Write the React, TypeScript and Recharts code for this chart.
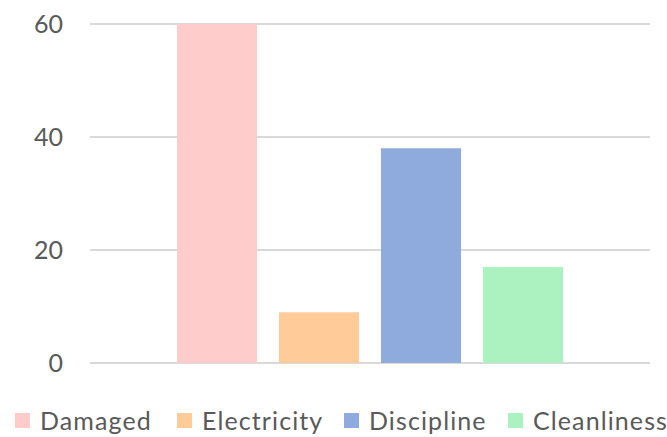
import React from 'react';
import { BarChart, Bar, XAxis, YAxis, CartesianGrid, Legend } from 'recharts';

const categories = ['Total'];
const seriesNames = ['Damaged', 'Electricity', 'Discipline', 'Cleanliness'];
const seriesValues = [60, 9, 38, 17];
const seriesColors = ['#ffcccc', '#ffcc99', '#8faadc', '#abf2c0'];
const yTicks = [0, 20, 40, 60];

const data = categories.map((c) => {
  const row: Record<string, string | number> = { name: c };
  seriesNames.forEach((s, i) => {
    row[s] = seriesValues[i];
  });
  return row;
});

const FONT = 'Lato, "Open Sans", sans-serif';
const TEXT = '#595959';

// left edge of each legend entry's swatch
const legendX = [15, 177, 344, 508];

const renderLegend = () => (
  <div style={{ position: 'relative', width: 667, height: 40, fontFamily: FONT, fontSize: 25, letterSpacing: 1.1, color: TEXT, whiteSpace: 'nowrap' }}>
    {seriesNames.map((s, i) => (
      <div
        key={s}
        style={{ position: 'absolute', left: legendX[i], top: 11, height: 25, lineHeight: '25px', display: 'flex', alignItems: 'center' }}
      >
        <span style={{ display: 'inline-block', width: 15, height: 15, background: seriesColors[i], marginRight: 10 }} />
        <span>{s}</span>
      </div>
    ))}
  </div>
);

export default function App() {
  return (
    <div style={{ position: 'absolute', left: 0, top: 0, width: 667, height: 437, background: '#fff', overflow: 'hidden' }}>
      <BarChart
        width={667}
        height={437}
        data={data}
        margin={{ top: 24, right: 17, bottom: 34, left: 10 }}
        barGap={22}
        barSize={80}
      >
        <CartesianGrid vertical={false} stroke="#d9d9d9" strokeWidth={2} />
        <XAxis dataKey="name" hide />
        <YAxis
          width={80}
          domain={[0, 60]}
          ticks={yTicks}
          axisLine={false}
          tickLine={false}
          tickMargin={21}
          tick={{ fill: TEXT, fontSize: 25, fontFamily: FONT }}
        />
        <Legend
          verticalAlign="bottom"
          height={40}
          content={renderLegend}
          wrapperStyle={{ left: 0, bottom: 0, width: 667 }}
        />
        {seriesNames.map((s, i) => (
          <Bar key={s} dataKey={s} fill={seriesColors[i]} isAnimationActive={false} />
        ))}
      </BarChart>
    </div>
  );
}
